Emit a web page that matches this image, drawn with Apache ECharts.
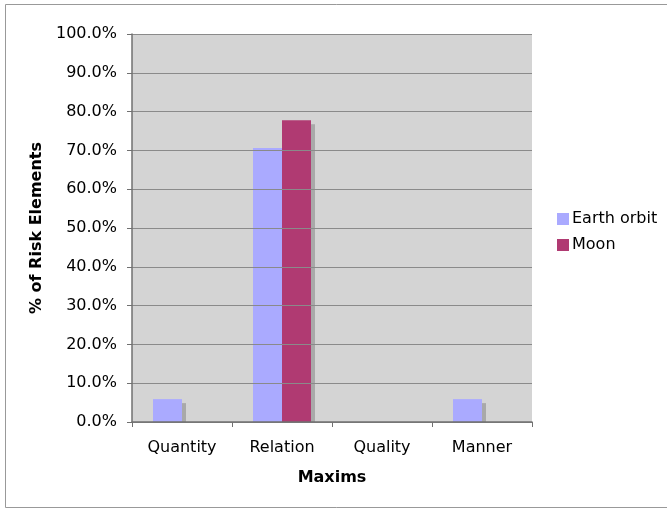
<!DOCTYPE html>
<html>
<head>
<meta charset="utf-8">
<script src="https://cdn.jsdelivr.net/npm/echarts@6/dist/echarts.min.js"></script>
<style>
html,body{margin:0;padding:0;background:#fff;}
#chart{width:667px;height:508px;}
</style>
</head>
<body>
<div id="chart"></div>
<script>
const categories = ['Quantity', 'Relation', 'Quality', 'Manner'];
const earthOrbit = [5.9, 70.6, 0, 5.9];
const moon = [0, 77.8, 0, 0];
const seriesNames = ['Earth orbit', 'Moon'];

const FONT = 'DejaVu Sans';
const chart = echarts.init(document.getElementById('chart'), null, {renderer: 'canvas'});
const shadow = {shadowColor: '#a9a9a9', shadowOffsetX: 4, shadowOffsetY: 4, shadowBlur: 0};
chart.setOption({
  animation: false,
  backgroundColor: '#fff',
  textStyle: {fontFamily: FONT},
  graphic: [
    {type: 'rect', z: -10, silent: true,
     shape: {x: 5.5, y: 4.5, width: 700, height: 503},
     style: {fill: 'none', stroke: '#999', lineWidth: 1}},
    {type: 'rect', z: 5, silent: true,
     shape: {x: 133, y: 423, width: 398, height: 6},
     style: {fill: '#fff'}}
  ],
  grid: {left: 132, right: 135, top: 34, bottom: 86, show: true, backgroundColor: '#d4d4d4', borderWidth: 0},
  legend: {
    orient: 'vertical', left: 552, top: 206,
    itemWidth: 12, itemHeight: 12, itemGap: 10,
    icon: 'rect',
    textStyle: {fontFamily: FONT, fontSize: 16, color: '#000', padding: [0,0,0,-2]},
    data: seriesNames
  },
  xAxis: {
    type: 'category', data: categories, z: 10,
    name: 'Maxims', nameLocation: 'middle', nameGap: 48,
    nameTextStyle: {fontFamily: FONT, fontSize: 16, fontWeight: 'bold', color: '#000'},
    axisLine: {lineStyle: {color: '#707070', width: 1.5}},
    axisTick: {show: true, length: 5, lineStyle: {color: '#707070'}},
    axisLabel: {fontFamily: FONT, fontSize: 16, color: '#000', margin: 18}
  },
  yAxis: {
    type: 'value', min: 0, max: 100, interval: 10, z: 10,
    name: '% of Risk Elements', nameLocation: 'middle', nameGap: 87,
    nameTextStyle: {fontFamily: FONT, fontSize: 16, fontWeight: 'bold', color: '#000'},
    axisLine: {show: true, lineStyle: {color: '#707070', width: 1.5}},
    axisTick: {show: true, length: 5, lineStyle: {color: '#707070'}},
    axisLabel: {fontFamily: FONT, fontSize: 16, color: '#000', margin: 15,
      formatter: v => v.toFixed(1) + '%'},
    splitLine: {show: true, lineStyle: {color: '#8a8a8a', width: 1}}
  },
  series: [
    {name: seriesNames[0], type: 'bar', data: earthOrbit, barGap: '0%', barCategoryGap: '42%',
     itemStyle: Object.assign({color: '#aaaaff'}, shadow)},
    {name: seriesNames[1], type: 'bar', data: moon, barGap: '0%', barCategoryGap: '42%',
     itemStyle: Object.assign({color: '#b03a72'}, shadow)}
  ]
});
</script>
</body>
</html>
